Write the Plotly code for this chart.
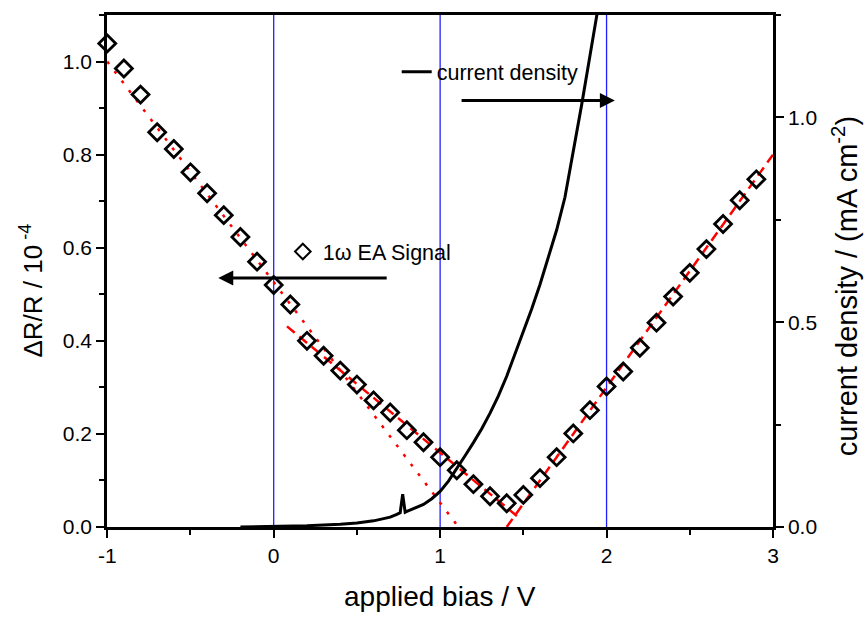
import plotly.graph_objects as go

# Electroabsorption (1ω) signal vs applied bias
bias = [-1.0, -0.9, -0.8, -0.7, -0.6, -0.5, -0.4, -0.3, -0.2, -0.1,
        0.0, 0.1, 0.2, 0.3, 0.4, 0.5, 0.6, 0.7, 0.8, 0.9,
        1.0, 1.1, 1.2, 1.3, 1.4, 1.5, 1.6, 1.7, 1.8, 1.9,
        2.0, 2.1, 2.2, 2.3, 2.4, 2.5, 2.6, 2.7, 2.8, 2.9]
ea_signal = [1.039, 0.985, 0.929, 0.848, 0.812, 0.762, 0.717, 0.670, 0.623, 0.570,
             0.520, 0.478, 0.400, 0.368, 0.336, 0.306, 0.272, 0.246, 0.208, 0.182,
             0.150, 0.122, 0.092, 0.066, 0.051, 0.069, 0.105, 0.150, 0.201, 0.251,
             0.302, 0.334, 0.385, 0.439, 0.495, 0.546, 0.597, 0.651, 0.702, 0.747]

# Linear fits (end points)
fit_dot_x = [-1.0, 1.11]
fit_dot_y = [1.0, 0.0]
fit_mid_x = [0.08, 1.47]
fit_mid_y = [0.431, 0.021]
fit_rise_x = [1.40, 3.0]
fit_rise_y = [0.0, 0.80]

# Current density (mA cm^-2)
j_bias = [-0.2, 0.0, 0.2, 0.4, 0.5, 0.6, 0.7, 0.74, 0.76, 0.775, 0.79, 0.8,
          0.85, 0.9, 0.95, 1.0, 1.05, 1.1, 1.15, 1.2, 1.25, 1.3, 1.35, 1.4,
          1.45, 1.5, 1.55, 1.6, 1.65, 1.7, 1.75, 1.8, 1.85, 1.9, 1.95]
j_density = [0.0, 0.001, 0.003, 0.007, 0.010, 0.015, 0.024, 0.031, 0.035, 0.080, 0.036, 0.038,
             0.046, 0.055, 0.069, 0.087, 0.112, 0.142, 0.174, 0.206, 0.240, 0.278, 0.320, 0.368,
             0.422, 0.476, 0.532, 0.592, 0.656, 0.725, 0.805, 0.915, 1.030, 1.150, 1.270]

# vertical guide lines and axis ticks
guide_x = [0, 1, 2]
x_ticks = [-1, 0, 1, 2, 3]
x_ticklabels = ["-1", "0", "1", "2", "3"]

FONT = "Liberation Sans, Arial, sans-serif"

fig = go.Figure()

# thin blue guide lines at integer biases (2 px wide in a 1 px grid cell)
for xv in guide_x:
    fig.add_trace(go.Scatter(x=[xv, xv], y=[0, 1.1], mode="lines",
                             line=dict(color="#2020ff", width=1.3),
                             showlegend=False, hoverinfo="skip", yaxis="y"))

fig.add_trace(go.Scatter(x=fit_dot_x, y=fit_dot_y, mode="lines",
                         line=dict(color="red", width=2.5, dash="3px,9px"),
                         showlegend=False, yaxis="y"))
fig.add_trace(go.Scatter(x=fit_mid_x, y=fit_mid_y, mode="lines",
                         line=dict(color="red", width=2.5, dash="10px,6px"),
                         showlegend=False, yaxis="y"))
fig.add_trace(go.Scatter(x=fit_rise_x, y=fit_rise_y, mode="lines",
                         line=dict(color="red", width=2.5, dash="10px,6px"),
                         showlegend=False, yaxis="y"))

fig.add_trace(go.Scatter(x=bias, y=ea_signal, mode="markers", name="1ω EA Signal",
                         marker=dict(symbol="diamond-open", size=13, color="black",
                                     line=dict(color="black", width=2.8)),
                         yaxis="y", legend="legend2", cliponaxis=False))

fig.add_trace(go.Scatter(x=j_bias, y=j_density, mode="lines", name="current density",
                         line=dict(color="black", width=3),
                         yaxis="y2", legend="legend"))

# arrows pointing to each curve's axis
fig.add_annotation(x=2.05, y=1.041, ax=1.12, ay=1.041, xref="x", yref="y2",
                   axref="x", ayref="y2", text="", showarrow=True,
                   arrowhead=2, arrowsize=1.0, arrowwidth=3, arrowcolor="black")
fig.add_annotation(x=-0.333, y=0.535, ax=0.688, ay=0.535, xref="x", yref="y",
                   axref="x", ayref="y", text="", showarrow=True,
                   arrowhead=2, arrowsize=1.0, arrowwidth=3, arrowcolor="black")

# axis titles
fig.add_annotation(text="applied bias / V", x=0.5, y=-0.136, xref="paper", yref="paper",
                   showarrow=False, font=dict(size=28, family=FONT, color="black"),
                   xanchor="center", yanchor="middle")
fig.add_annotation(text="ΔR/R / 10<sup> -4</sup>", x=-0.114, y=0.462, xref="paper", yref="paper",
                   showarrow=False, textangle=-90, xanchor="center", yanchor="middle",
                   font=dict(size=26, family=FONT, color="black"))
fig.add_annotation(text="current density / (mA cm<sup>-2</sup>)", x=1.108, y=0.47,
                   xref="paper", yref="paper", showarrow=False, textangle=-90,
                   xanchor="center", yanchor="middle",
                   font=dict(size=29, family=FONT, color="black"))

axis_common = dict(showgrid=False, zeroline=False, showline=True, linecolor="black",
                   linewidth=2.5, ticks="outside", tickwidth=2, ticklen=8,
                   tickcolor="black", tickfont=dict(size=21, family=FONT, color="black"))

fig.update_layout(
    width=865, height=617,
    margin=dict(l=107, r=92, t=13, b=90),
    paper_bgcolor="white", plot_bgcolor="white",
    font=dict(family=FONT, color="black"),
    xaxis=dict(range=[-1.0015, 3], tickvals=x_ticks, ticktext=x_ticklabels, mirror=True,
               minor=dict(dtick=0.5, ticks="outside", ticklen=5, tickwidth=2, tickcolor="black"),
               **axis_common),
    yaxis=dict(range=[0, 1.1], tickvals=[0, 0.2, 0.4, 0.6, 0.8, 1.0], tickformat=".1f",
               minor=dict(dtick=0.1, ticks="outside", ticklen=5, tickwidth=2, tickcolor="black"),
               **axis_common),
    yaxis2=dict(range=[0, 1.25], overlaying="y", side="right", tickvals=[0, 0.5, 1.0],
                tickformat=".1f",
                minor=dict(dtick=0.25, ticks="outside", ticklen=5, tickwidth=2, tickcolor="black"),
                **axis_common),
    legend=dict(x=0.435, y=0.889, xanchor="left", yanchor="middle",
                bgcolor="rgba(0,0,0,0)", font=dict(size=21.5, family=FONT)),
    legend2=dict(x=0.264, y=0.538, xanchor="left", yanchor="middle",
                 bgcolor="rgba(0,0,0,0)", font=dict(size=21.5, family=FONT),
                 itemsizing="constant"),
)

fig.write_html("out.html")
